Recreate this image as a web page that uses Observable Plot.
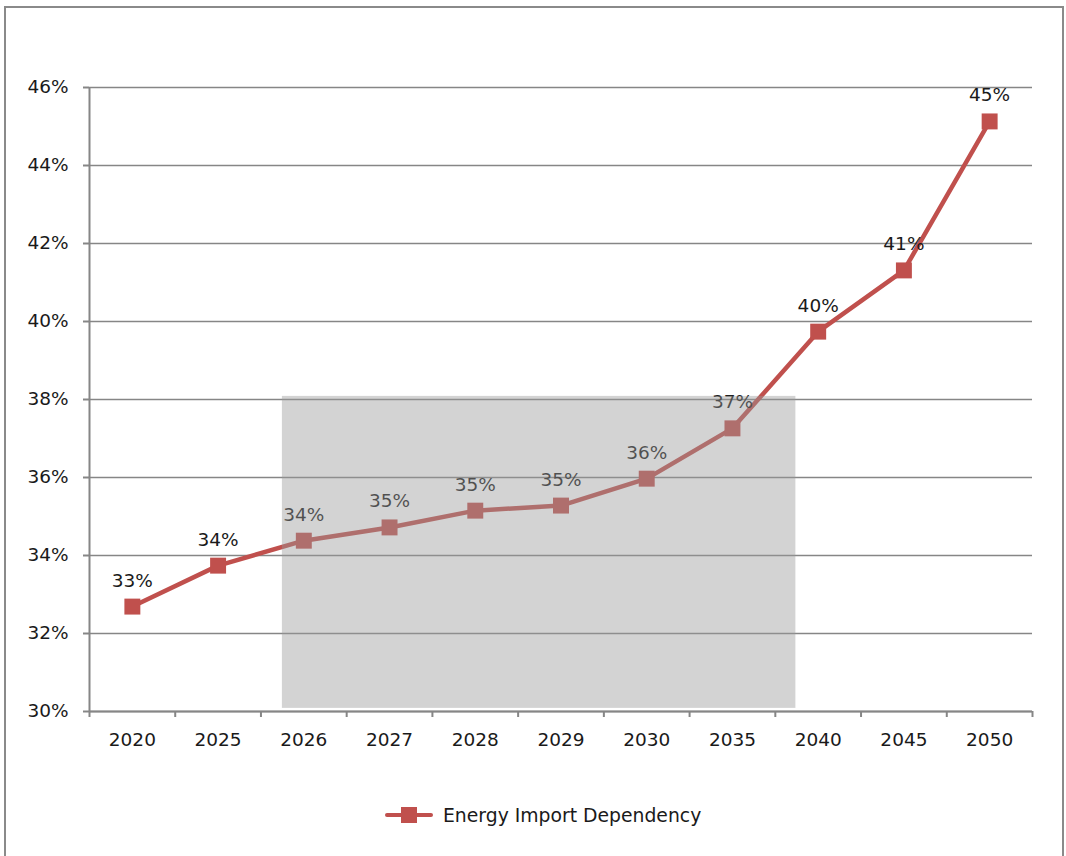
<!DOCTYPE html>
<html>
<head>
<meta charset="utf-8">
<script src="https://cdn.jsdelivr.net/npm/d3@7"></script>
<script src="https://cdn.jsdelivr.net/npm/@observablehq/plot@0.6"></script>
<style>
  html, body { margin: 0; padding: 0; background: #fff; }
  body { width: 1066px; height: 856px; position: relative; overflow: hidden; font-family: "DejaVu Sans", sans-serif; }
  #frame { position: absolute; left: 4px; top: 6px; width: 1060px; height: 900px; border: 2px solid #8a8a8a; box-sizing: border-box; }
  #chart { position: absolute; left: 0; top: 0; }
  #legend { position: absolute; left: 385px; top: 803px; height: 24px; display: flex; align-items: center; font-size: 18.8px; color: #1a1a1a; }
  #legend .key { position: relative; width: 48px; height: 24px; margin-right: 10px; }
  #legend .key .ln { position: absolute; left: 0; top: 10px; width: 48px; height: 4px; background: #c0504d; border-radius: 2px; }
  #legend .key .sq { position: absolute; left: 16px; top: 4px; width: 16px; height: 16px; background: #c0504d; }
</style>
</head>
<body>
<div id="frame"></div>
<div id="chart"></div>
<div id="legend"><div class="key"><div class="ln"></div><div class="sq"></div></div><span>Energy Import Dependency</span></div>
<script>
const years = ["2020", "2025", "2026", "2027", "2028", "2029", "2030", "2035", "2040", "2045", "2050"];
const values = [32.69, 33.74, 34.38, 34.72, 35.15, 35.28, 35.97, 37.26, 39.74, 41.31, 45.13];
const yTicks = [30, 32, 34, 36, 38, 40, 42, 44, 46];
const seriesName = "Energy Import Dependency";

const data = years.map((y, i) => ({i, year: y, v: values[i]}));
const highlight = [{x1: 1.75, x2: 7.74, y1: 30.08, y2: 38.08}];
const axisGray = "#868686";
const red = "#c0504d";

const chart = Plot.plot({
  width: 1066,
  height: 780,
  marginLeft: 89,
  marginRight: 34,
  marginTop: 87,
  marginBottom: 69,
  style: {fontFamily: "DejaVu Sans", fontSize: "18.5px", color: "#1a1a1a", background: "transparent"},
  x: {type: "linear", domain: [-0.5, 10.5]},
  y: {domain: [30, 46]},
  marks: [
    Plot.ruleY(yTicks, {stroke: axisGray, strokeWidth: 1.6}),
    Plot.ruleX([-0.5], {y1: 30, y2: 46, stroke: axisGray, strokeWidth: 2}),
    Plot.axisY({ticks: yTicks, tickSize: 6, tickPadding: 15, tickFormat: d => d + "%", fontSize: 18.5, stroke: axisGray, strokeWidth: 2, strokeOpacity: 1, label: null}),
    Plot.axisX({ticks: d3.range(-0.5, 11, 1), tickSize: 6, tickFormat: () => "", stroke: axisGray, strokeWidth: 2, strokeOpacity: 1, label: null}),
    Plot.axisX({ticks: d3.range(0, 11), tickSize: 0, tickPadding: 21, tickFormat: i => years[i], fontSize: 18.5, label: null}),
    Plot.ruleY([30], {stroke: axisGray, strokeWidth: 2}),
    Plot.line(data, {x: "i", y: "v", stroke: red, strokeWidth: 4.5}),
    Plot.dot(data, {x: "i", y: "v", symbol: "square", r: 9, fill: red, stroke: "none"}),
    Plot.text(data, {x: "i", y: "v", text: d => Math.round(d.v) + "%", dy: -26, fontSize: 18.5, fill: "#1a1a1a", lineAnchor: "middle"}),
    Plot.rect(highlight, {x1: "x1", x2: "x2", y1: "y1", y2: "y2", fill: "#9a9a9a", fillOpacity: 0.43})
  ]
});
document.getElementById("chart").appendChild(chart);
</script>
</body>
</html>
